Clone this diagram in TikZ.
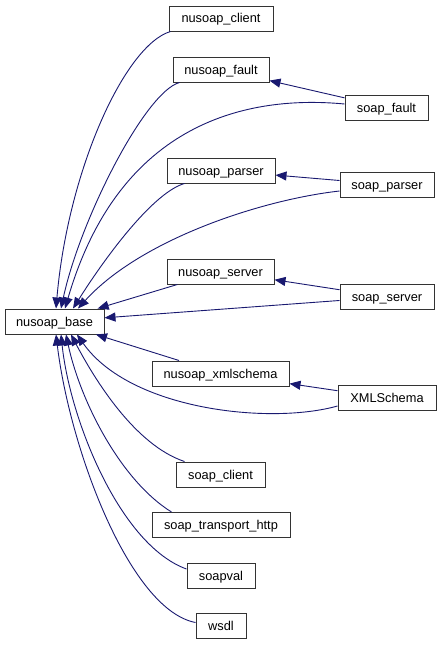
\documentclass[tikz,border=0pt]{standalone}
\usepackage{fontspec}
\setmainfont{Liberation Sans}
\usetikzlibrary{arrows.meta,calc}
\definecolor{edgeblue}{HTML}{191970}
\tikzset{
  cls/.style={draw=black!80, line width=1pt, fill=white, inner sep=0pt, minimum height=25pt, text height=9pt, text depth=0pt, font=\fontsize{12.8}{15}\selectfont},
  dep/.style={draw=edgeblue, line width=0.9pt, -{Triangle[length=11pt,width=9pt,fill=edgeblue]}},
}
\begin{document}
\begin{tikzpicture}[x=1pt,y=-1pt]
\useasboundingbox (0,0) rectangle (441,645);
\node[cls, minimum width=99pt]  (base)  at (54.5,321.5) {nusoap\_base};
\node[cls, minimum width=104pt] (nclient) at (221,18.5) {nusoap\_client};
\node[cls, minimum width=96pt]  (nfault) at (221,69.5) {nusoap\_fault};
\node[cls, minimum width=83pt]  (sfault) at (386.5,107.5) {soap\_fault};
\node[cls, minimum width=108pt] (nparser) at (221,170.5) {nusoap\_parser};
\node[cls, minimum width=94pt]  (sparser) at (387,184.5) {soap\_parser};
\node[cls, minimum width=107pt] (nserver) at (220.5,271.5) {nusoap\_server};
\node[cls, minimum width=94pt]  (sserver) at (387,297) {soap\_server};
\node[cls, minimum width=137pt] (nxmls) at (220.5,373.5) {nusoap\_xmlschema};
\node[cls, minimum width=98pt]  (xmls) at (387,398) {XMLSchema};
\node[cls, minimum width=89pt]  (sclient) at (220.5,474.5) {soap\_client};
\node[cls, minimum width=138pt] (stransport) at (221,525) {soap\_transport\_http};
\node[cls, minimum width=68pt]  (soapval) at (221,575.5) {soapval};
\node[cls, minimum width=50pt]  (wsdl) at (221,625.5) {wsdl};

% child-to-child
\draw[dep] (sfault) -- (nfault);
\draw[dep] (sparser) -- (nparser);
\draw[dep] (sserver) -- (nserver);
\draw[dep] (xmls) -- (nxmls);

% straight to base
\draw[dep] (nserver) -- (base);
\draw[dep] (sserver) -- (base);
\draw[dep] (nxmls) -- (base);

% curves to base top
\draw[dep] ($(nclient.south west)+(2,0)$) .. controls (125,45) and (68,170) .. ($(base.north)+(1.5,0)$);
\draw[dep] ($(nfault.south west)+(7,0)$) .. controls (145,92) and (80,220) .. ($(base.north)+(6.5,0)$);
\draw[dep] ($(sfault.west)+(0,-3.5)$) .. controls (250,95) and (120,120) .. ($(base.north)+(10.5,0)$);
\draw[dep] ($(nparser.south west)+(18,0)$) .. controls (155,192) and (110,250) .. ($(base.north)+(18.5,0)$);
\draw[dep] ($(sparser.west)+(0,6.5)$) .. controls (260,200) and (140,240) .. ($(base.north)+(23.5,0)$);

% curves to base bottom
\draw[dep] ($(xmls.west)+(0,8)$) .. controls (270,425) and (130,410) .. ($(base.south)+(22.5,0)$);
\draw[dep] ($(sclient.north west)+(9,0)$) .. controls (135,445) and (95,380) .. ($(base.south)+(16.5,0)$);
\draw[dep] ($(stransport.north west)+(20,0)$) .. controls (120,480) and (80,400) .. ($(base.south)+(11.5,0)$);
\draw[dep] ($(soapval.west)+(0,-6.5)$) .. controls (120,545) and (70,420) .. ($(base.south)+(6.5,0)$);
\draw[dep] ($(wsdl.west)+(0,-3)$) .. controls (130,610) and (70,450) .. ($(base.south)+(1.5,0)$);
\end{tikzpicture}
\end{document}
